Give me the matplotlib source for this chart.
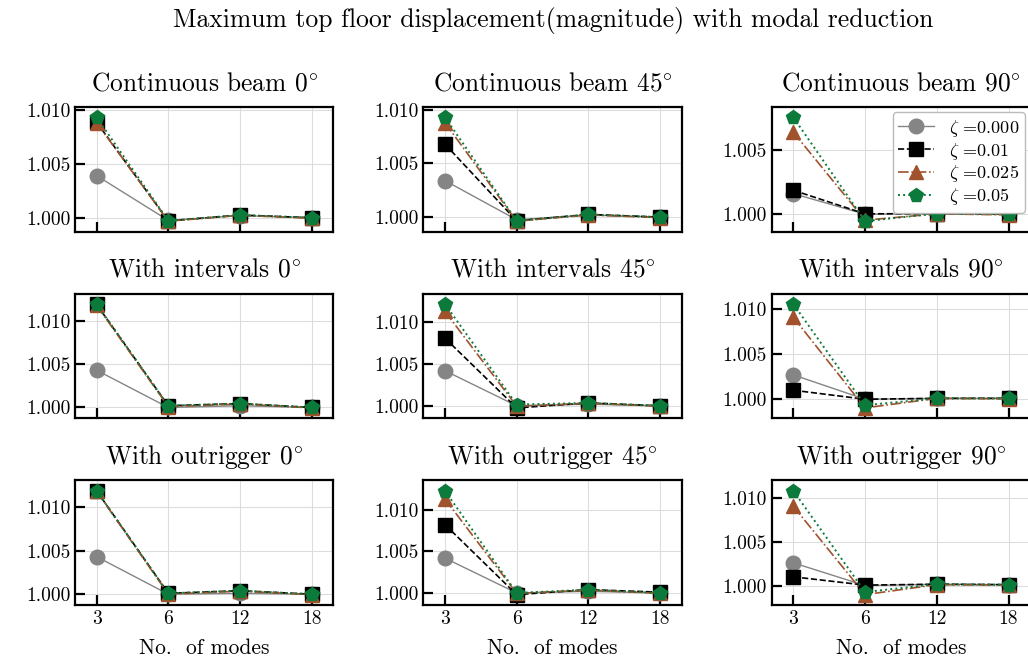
import matplotlib
matplotlib.use("Agg")
import matplotlib.pyplot as plt
from matplotlib.ticker import FormatStrFormatter

plt.rcParams.update({
    "font.family": "serif",
    "font.serif": ["cmr10"],
    "mathtext.fontset": "cm",
    "axes.formatter.use_mathtext": True,
    "axes.unicode_minus": False,
    "font.size": 15,
    "xtick.direction": "in",
    "ytick.direction": "in",
    "xtick.major.size": 7,
    "ytick.major.size": 7,
    "xtick.major.width": 1.6,
    "ytick.major.width": 1.6,
    "axes.linewidth": 1.6,
    "axes.xmargin": 0.1,
    "axes.ymargin": 0.1,
})

modes = ["3", "6", "12", "18"]
models = ["Continuous beam", "With intervals", "With outrigger"]
angles = ["0", "45", "90"]
zeta_labels = [r"$\zeta$ =0.000", r"$\zeta$ =0.01", r"$\zeta$ =0.025", r"$\zeta$ =0.05"]

# normalised max displacement, [model][angle][zeta] -> values over modes
cb_0 = [[1.0039, 0.99975, 1.0002, 1.0000],
        [1.00885, 0.99970, 1.00025, 1.0000],
        [1.0088, 0.99968, 1.00022, 0.99995],
        [1.0093, 0.99972, 1.00025, 1.0000]]
cb_45 = [[1.0034, 0.99975, 1.0002, 1.0000],
         [1.0068, 0.99965, 1.00025, 1.0000],
         [1.0088, 0.99962, 1.0002, 0.99995],
         [1.0093, 0.99965, 1.00025, 1.0000]]
cb_90 = [[1.0016, 1.0000, 1.00005, 1.0000],
         [1.00186, 1.00003, 1.00005, 1.0000],
         [1.00637, 0.99954, 1.00003, 0.99995],
         [1.00753, 0.99946, 1.00005, 1.0000]]
wi_0 = [[1.0043, 1.0000, 1.0002, 1.0000],
        [1.0119, 1.0002, 1.00045, 1.0000],
        [1.0118, 1.0001, 1.0004, 0.99995],
        [1.01194, 1.0002, 1.00045, 1.0000]]
wi_45 = [[1.0042, 1.0000, 1.0002, 1.0000],
         [1.0081, 0.99975, 1.00035, 1.0000],
         [1.0113, 0.99995, 1.0003, 0.99995],
         [1.01218, 1.00015, 1.00035, 1.0000]]
wi_90 = [[1.0027, 1.0000, 1.0001, 1.0001],
         [1.0010, 1.0000, 1.0001, 1.0001],
         [1.00908, 0.99904, 1.0001, 1.00005],
         [1.01055, 0.99934, 1.0001, 1.0001]]
wo_0 = [[1.0043, 1.0000, 1.0001, 1.0000],
        [1.01185, 1.0001, 1.0004, 1.0000],
        [1.0118, 1.0000, 1.00035, 0.99995],
        [1.01185, 1.0001, 1.0004, 1.0000]]
wo_45 = [[1.0042, 1.0000, 1.0002, 1.0000],
         [1.00824, 0.9998, 1.0004, 1.0001],
         [1.01132, 0.99995, 1.00035, 0.99995],
         [1.01232, 1.0000, 1.0004, 1.0000]]
wo_90 = [[1.0026, 1.0000, 1.00015, 1.0001],
         [1.0010, 1.00005, 1.00015, 1.0001],
         [1.00907, 0.99896, 1.0001, 1.00005],
         [1.01085, 0.99926, 1.00015, 1.0001]]

results = [[cb_0, cb_45, cb_90],
           [wi_0, wi_45, wi_90],
           [wo_0, wo_45, wo_90]]

colors = ["#858585", "black", "#a0522d", "#0b7a3b"]
markers = ["o", "s", "^", "p"]
styles = ["-", "--", "-.", ":"]
widths = [1.0, 1.2, 1.2, 1.4]

fig, axes = plt.subplots(3, 3, figsize=(10.28, 6.6), dpi=100)
fig.subplots_adjust(left=0.073, right=1.002, bottom=0.0833, top=0.838,
                    wspace=0.349, hspace=0.498)

for i, model in enumerate(models):
    for j, ang in enumerate(angles):
        ax = axes[i][j]
        for k in range(4):
            ax.plot(modes, results[i][j][k], color=colors[k], marker=markers[k],
                    linestyle=styles[k], linewidth=widths[k], markersize=10.5,
                    label=zeta_labels[k])
        ax.set_title(model + " " + ang + r"$^{\circ}$", pad=12, fontsize=18.3)
        ax.grid(True, color="#dddddd", linewidth=0.8)
        ax.set_axisbelow(True)
        # only keep tick positions inside the autoscaled range
        lo, hi = ax.get_ylim()
        ax.set_yticks([t for t in [1.000, 1.005, 1.010] if lo <= t <= hi])
        ax.set_ylim(lo, hi)
        ax.yaxis.set_major_formatter(FormatStrFormatter("%.3f"))
        ax.tick_params(top=False, right=False, labelsize=14)
        if i == 2:
            ax.set_xlabel("No.  of modes", fontsize=15.5, labelpad=8)
        else:
            ax.tick_params(labelbottom=False)

axes[0][2].legend(loc="upper right", fontsize=13, fancybox=True,
                  edgecolor="#bbbbbb", framealpha=1.0, handlelength=2.0,
                  borderpad=0.3, labelspacing=0.1, borderaxespad=0.3)

fig.suptitle("Maximum top floor displacement(magnitude) with modal reduction",
             x=0.538, y=0.99, fontsize=18.5)

fig.savefig("out.png", dpi=100)
